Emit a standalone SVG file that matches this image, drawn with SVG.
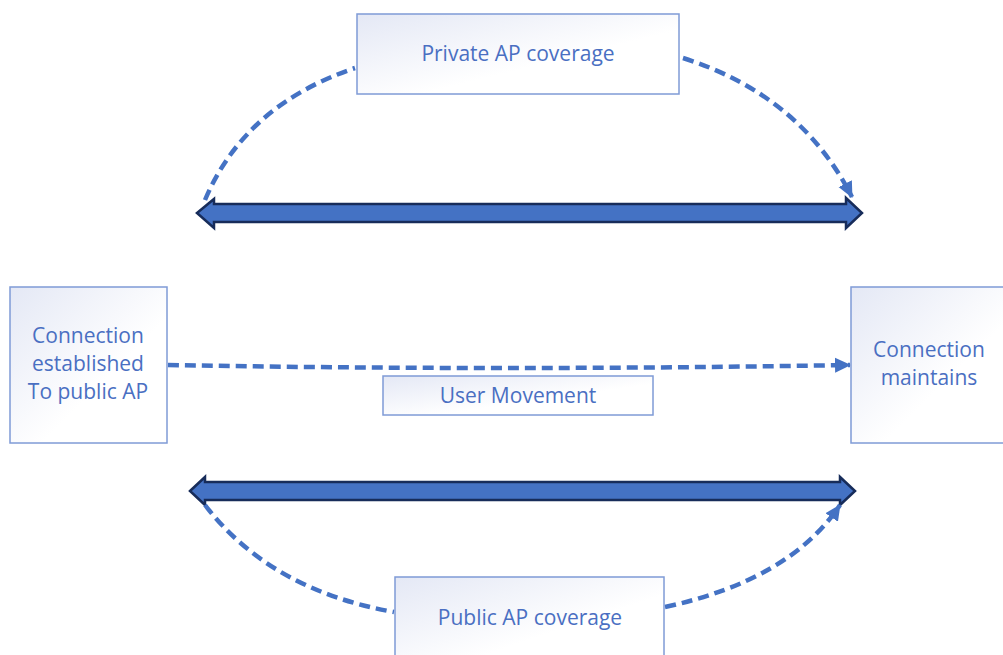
<svg xmlns="http://www.w3.org/2000/svg" width="1003" height="655" viewBox="0 0 1003 655">
<style>
.box{fill:url(#g);stroke:#7F9BD6;stroke-width:1.5}
.t{font-family:"Open Sans","Noto Sans",sans-serif;font-size:21px;fill:#4A6FC2;text-anchor:middle}
.dash{fill:none;stroke:#4472C4;stroke-width:4.5;stroke-dasharray:11 6}
.big{fill:#4472C4;stroke:#172C5A;stroke-width:2.5;stroke-linejoin:miter}
</style>
<defs>
<linearGradient id="g" x1="0" y1="0" x2="1" y2="1">
<stop offset="0" stop-color="#E4E8F5"/>
<stop offset="0.6" stop-color="#FFFFFF"/>
</linearGradient>
<marker id="ah" markerUnits="userSpaceOnUse" markerWidth="18" markerHeight="18" refX="15" refY="9" orient="auto">
<path d="M0,1.5 L16,9 L0,16.5 Z" fill="#4472C4"/>
</marker>
</defs>
<g id="connectors">
<path class="big" d="M197,213 L214,199 L214,204 L846,204 L846,198 L862,213 L846,228 L846,222 L214,222 L214,228 Z"/>
<path class="big" d="M190,491 L205,477 L205,482 L840,482 L840,477 L855,491 L840,505 L840,500 L205,500 L205,505 Z"/>
<path class="dash" d="M205,200 Q245,105 355,68"/>
<path class="dash" d="M683,58 Q800,95 852,197" marker-end="url(#ah)"/>
<path class="dash" d="M168,365 Q500,371 850,365" marker-end="url(#ah)"/>
<path class="dash" d="M205,505 Q270,590 394,612"/>
<path class="dash" d="M665,607 Q790,580 840,505" marker-end="url(#ah)"/>
</g>
<g id="private">
<rect class="box" x="357" y="14" width="322" height="80"/>
<text class="t" x="518" y="61">Private AP coverage</text>
</g>
<g id="left">
<rect class="box" x="10" y="287" width="157" height="156"/>
<text class="t" x="88" y="343">Connection</text>
<text class="t" x="88" y="371">established</text>
<text class="t" x="88" y="399">To public AP</text>
</g>
<g id="right">
<rect class="box" x="851" y="287" width="160" height="156"/>
<text class="t" x="929" y="357">Connection</text>
<text class="t" x="929" y="385">maintains</text>
</g>
<g id="user">
<rect class="box" x="383" y="376" width="270" height="39"/>
<text class="t" x="518" y="403">User Movement</text>
</g>
<g id="public">
<rect class="box" x="395" y="577" width="269" height="90"/>
<text class="t" x="530" y="625">Public AP coverage</text>
</g>
</svg>
